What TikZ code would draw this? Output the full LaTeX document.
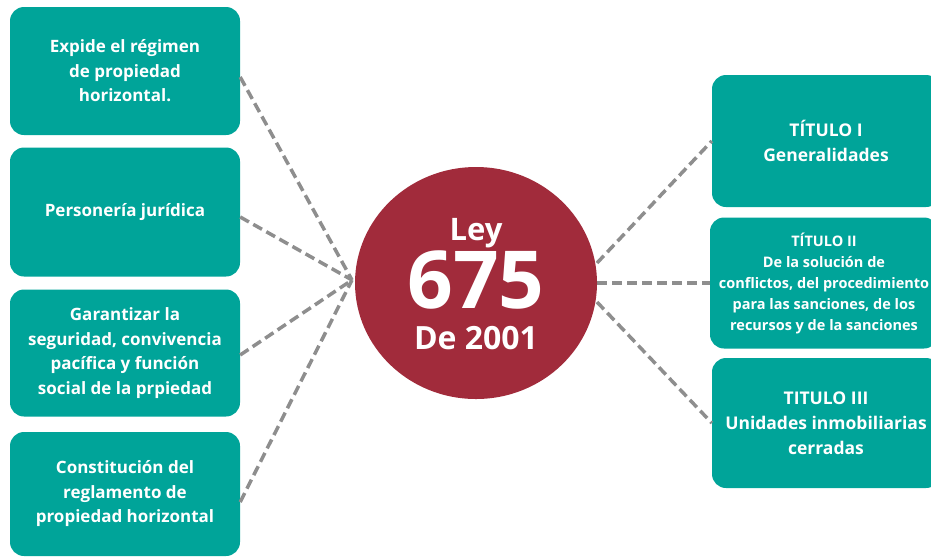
\documentclass[tikz,border=0pt]{standalone}
\usepackage{fontspec}
\setmainfont{Open Sans}
\usetikzlibrary{shapes.geometric}
\definecolor{teal1}{HTML}{00A499}
\definecolor{wine}{HTML}{A12B3B}
\definecolor{dashgray}{HTML}{8E8E8E}
\tikzset{
  x=1pt, y=-1pt,
  lbox/.style={fill=teal1, rounded corners=14pt, minimum width=230pt, inner sep=0pt,
    text=white, align=center, font=\fontsize{17}{24.5}\selectfont\bfseries},
  rbox/.style={fill=teal1, rounded corners=14pt, minimum width=228pt, inner sep=0pt,
    text=white, align=center, font=\fontsize{17.5}{25}\selectfont\bfseries},
  conn/.style={draw=dashgray, line width=3.5pt, dash pattern=on 10pt off 5pt},
  ctext/.style={text=white, anchor=base, inner sep=0pt, font=\bfseries}
}
\begin{document}
\begin{tikzpicture}
\useasboundingbox (0,0) rectangle (931,558);
\clip (0,0) rectangle (931,558);
% left boxes
\node[lbox, minimum height=128pt] (b1) at (125,71) {Expide el régimen\\de propiedad\\horizontal.};
\node[lbox, minimum height=129pt] (b2) at (125,212) {Personería jurídica};
\node[lbox, minimum height=127pt] (b3) at (125,353) {Garantizar la\\seguridad, convivencia\\pacífica y función\\social de la prpiedad};
\node[lbox, minimum height=124pt] (b4) at (125,494) {Constitución del\\reglamento de\\propiedad horizontal};
% right boxes
\node[rbox, minimum height=132pt] (r1) at (826,141) {TÍTULO I\\Generalidades};
\node[rbox, minimum height=131pt, font=\fontsize{14.5}{21}\selectfont\bfseries] (r2) at (824,283) {TÍTULO II\\De la solución de\\conflictos, del procedimiento\\para las sanciones, de los\\recursos y de la sanciones};
\node[rbox, minimum height=130pt] (r3) at (826,423) {TITULO III\\Unidades inmobiliarias\\cerradas};
% hub coordinates
\coordinate (hl) at (352,280);
\coordinate (hr1) at (597,263);
\coordinate (hr2) at (597,283);
\coordinate (hr3) at (597,302);
% connectors
\draw[conn] ([yshift=-6pt]b1.east) -- (hl);
\draw[conn] ([yshift=-5pt]b2.east) -- (hl);
\draw[conn] ([yshift=-2pt]b3.east) -- (hl);
\draw[conn] ([yshift=-8pt]b4.east) -- (hl);
\draw[conn] (hr1) -- (r1.west);
\draw[conn] (hr2) -- (r2.west);
\draw[conn] (hr3) -- (r3.west);
% center
\node[ellipse, fill=wine, minimum width=242pt, minimum height=232pt, inner sep=0pt] (c) at (476,283) {};
\node[ctext, font=\fontsize{31}{31}\selectfont\bfseries] (ley) at (476,240) {Ley};
\node[ctext, font=\fontsize{80}{80}\selectfont\bfseries] (num) at (476,308) {675};
\node[ctext, font=\fontsize{32}{32}\selectfont\bfseries] (year) at (476,349) {De 2001};
\end{tikzpicture}
\end{document}
